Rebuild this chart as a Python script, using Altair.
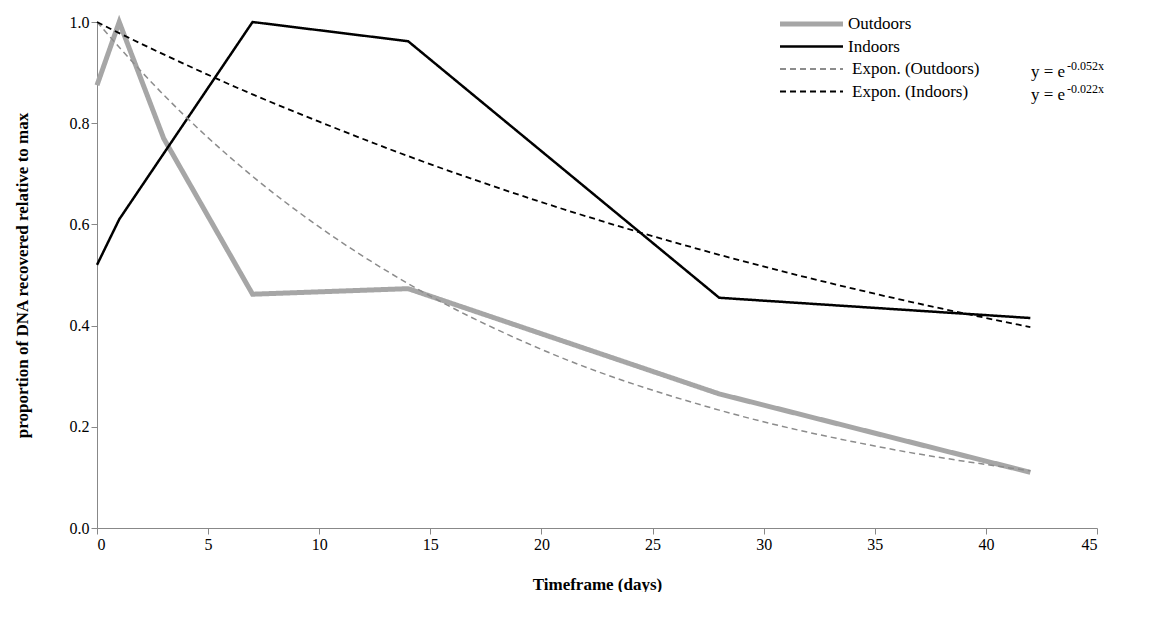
import altair as alt
import pandas as pd

days = [0, 1, 3, 7, 14, 28, 42]
outdoors = [0.875, 1.0, 0.77, 0.462, 0.473, 0.265, 0.11]
indoors = [0.52, 0.61, 0.74, 1.0, 0.962, 0.455, 0.415]
trend_days = [0, 1, 3, 7, 10, 14, 20, 28, 35, 42]
expon_out = [1.0, 0.95, 0.856, 0.695, 0.595, 0.483, 0.353, 0.233, 0.162, 0.113]
expon_in = [1.0, 0.978, 0.936, 0.857, 0.803, 0.735, 0.644, 0.54, 0.463, 0.397]

series = ["Outdoors", "Indoors", "Expon. (Outdoors)", "Expon. (Indoors)"]
colors = ["#a6a6a6", "#000000", "#8c8c8c", "#000000"]
dashes = [[1, 0], [1, 0], [6, 4], [6, 4]]
widths = [5, 2.5, 1.5, 1.8]
exponents = ["", "", "-0.052x", "-0.022x"]

font = "Liberation Serif"
x_enc = alt.X("day:Q", title="Timeframe (days)",
              scale=alt.Scale(domain=[0, 45], nice=False),
              axis=alt.Axis(values=list(range(0, 46, 5)), titlePadding=24))
y_enc = alt.Y("value:Q", title="proportion of DNA recovered relative to max",
              scale=alt.Scale(domain=[0, 1]),
              axis=alt.Axis(values=[0, 0.2, 0.4, 0.6, 0.8, 1.0], format=".1f", titlePadding=38))

layers = []
data_sets = [(days, outdoors, False), (days, indoors, False),
             (trend_days, expon_out, True), (trend_days, expon_in, True)]
for k, (xs, ys, smooth) in enumerate(data_sets):
    d = pd.DataFrame({"day": xs, "value": ys})
    layers.append(alt.Chart(d).mark_line(
        color=colors[k], strokeDash=dashes[k], strokeWidth=widths[k],
        interpolate="monotone" if smooth else "linear",
    ).encode(x=x_enc, y=y_enc))

# legend drawn by hand, Excel style
for k, name in enumerate(series):
    ypos = 2 + 22.5 * k
    layers.append(alt.Chart(pd.DataFrame({"s": [name]})).mark_rule(
        color=colors[k], strokeDash=dashes[k] if k > 1 else [1, 0],
        strokeWidth=widths[k] if k < 2 else 2.2,
    ).encode(x=alt.value(683), x2=alt.value(746), y=alt.value(ypos)))
    layers.append(alt.Chart(pd.DataFrame({"s": [name]})).mark_text(
        font=font, fontSize=17, align="left", baseline="middle", color="black",
    ).encode(x=alt.value(751 if k < 2 else 755), y=alt.value(ypos), text="s:N"))
    if exponents[k]:
        layers.append(alt.Chart(pd.DataFrame({"s": ["y = e"]})).mark_text(
            font=font, fontSize=17, align="left", baseline="middle", color="black",
        ).encode(x=alt.value(934), y=alt.value(ypos + 3), text="s:N"))
        layers.append(alt.Chart(pd.DataFrame({"s": [exponents[k]]})).mark_text(
            font=font, fontSize=12, align="left", baseline="middle", color="black",
        ).encode(x=alt.value(970), y=alt.value(ypos - 3), text="s:N"))

chart = alt.layer(*layers).properties(
    width=1000, height=506, padding={"left": 5, "top": 4, "right": 10, "bottom": 0}
).configure_axis(
    grid=False, labelFont=font, titleFont=font, labelFontSize=16, titleFontSize=17,
    labelColor="black", titleColor="black", domainColor="#888888", tickColor="#888888",
    tickSize=6, titleFontWeight="bold",
).configure_view(stroke=None)

chart.save("out.html", embed_options={"renderer": "svg", "actions": False})
